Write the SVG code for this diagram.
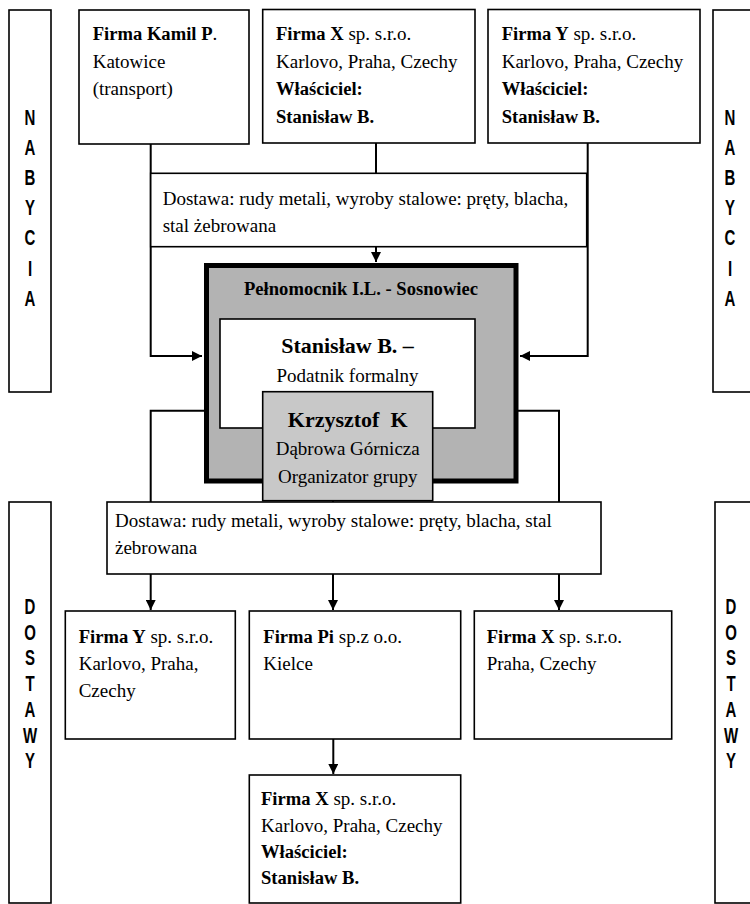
<svg xmlns="http://www.w3.org/2000/svg" width="750" height="904" viewBox="0 0 750 904">
<defs>
<style>
.b{fill:#fff;stroke:#000;stroke-width:1.6}
.t{font-family:"Liberation Serif","Times New Roman",serif;font-size:19px;fill:#000}
.bd{font-weight:bold;font-size:18.6px}
.s{font-family:"Liberation Sans",Arial,sans-serif;font-size:15px;font-weight:bold;fill:#000;text-anchor:middle}
.c{fill:none;stroke:#000;stroke-width:2}
</style>
<marker id="ah" viewBox="0 0 10 10" refX="10" refY="5" markerWidth="5" markerHeight="5" orient="auto" markerUnits="strokeWidth"><path d="M0,0L10,5L0,10z" fill="#000"/></marker>
</defs>
<rect width="750" height="904" fill="#fff"/>

<g id="side-nabycia-left">
<rect class="b" x="9" y="10" width="42" height="382"/>
<text class="s" transform="scale(1,1.45)"><tspan x="30" y="86">N</tspan><tspan x="30" y="106.8">A</tspan><tspan x="30" y="127.7">B</tspan><tspan x="30" y="148.5">Y</tspan><tspan x="30" y="169.3">C</tspan><tspan x="30" y="190.1">I</tspan><tspan x="30" y="211">A</tspan></text>
</g>
<g id="side-nabycia-right">
<rect class="b" x="713" y="10" width="60" height="382"/>
<text class="s" transform="scale(1,1.45)"><tspan x="730" y="86">N</tspan><tspan x="730" y="106.8">A</tspan><tspan x="730" y="127.7">B</tspan><tspan x="730" y="148.5">Y</tspan><tspan x="730" y="169.3">C</tspan><tspan x="730" y="190.1">I</tspan><tspan x="730" y="211">A</tspan></text>
</g>
<g id="side-dostawy-left">
<rect class="b" x="9" y="502" width="42" height="401"/>
<text class="s" transform="scale(1,1.45)"><tspan x="30" y="423.4">D</tspan><tspan x="30" y="441.2">O</tspan><tspan x="30" y="458.9">S</tspan><tspan x="30" y="476.6">T</tspan><tspan x="30" y="494.3">A</tspan><tspan x="30" y="512.1">W</tspan><tspan x="30" y="529.8">Y</tspan></text>
</g>
<g id="side-dostawy-right">
<rect class="b" x="715" y="502" width="60" height="401"/>
<text class="s" transform="scale(1,1.45)"><tspan x="731" y="423.4">D</tspan><tspan x="731" y="441.2">O</tspan><tspan x="731" y="458.9">S</tspan><tspan x="731" y="476.6">T</tspan><tspan x="731" y="494.3">A</tspan><tspan x="731" y="512.1">W</tspan><tspan x="731" y="529.8">Y</tspan></text>
</g>

<g id="connectors">
<path class="c" d="M150.7,144V356H202" marker-end="url(#ah)"/>
<path class="c" d="M587.7,143V356H520" marker-end="url(#ah)"/>
<path class="c" d="M376,143V173"/>
<path class="c" d="M376,247V262" marker-end="url(#ah)"/>
<path class="c" d="M204,410.7H150.7V510"/>
<path class="c" d="M518,410.7H559V513"/>
<path class="c" d="M333,500V510"/>
<path class="c" d="M150.7,574V610" marker-end="url(#ah)"/>
<path class="c" d="M333,574V610" marker-end="url(#ah)"/>
<path class="c" d="M559,574V610" marker-end="url(#ah)"/>
<path class="c" d="M333.3,739V774" marker-end="url(#ah)"/>
</g>

<g id="firma-kamil">
<rect class="b" x="79" y="10" width="170" height="134"/>
<text class="t"><tspan x="92.7" y="40" class="bd">Firma Kamil P</tspan><tspan>.</tspan><tspan x="92.7" y="67.5">Katowice</tspan><tspan x="92.7" y="95">(transport)</tspan></text>
</g>
<g id="firma-x-top">
<rect class="b" x="262.7" y="9.5" width="212.3" height="133.5"/>
<text class="t"><tspan x="276" y="40" class="bd">Firma X</tspan><tspan> sp. s.r.o.</tspan><tspan x="276" y="67.5">Karlovo, Praha, Czechy</tspan><tspan x="276" y="95" class="bd">Właściciel:</tspan><tspan x="276" y="122.5" class="bd">Stanisław B.</tspan></text>
</g>
<g id="firma-y-top">
<rect class="b" x="488" y="9.5" width="212" height="133.5"/>
<text class="t"><tspan x="501.7" y="40" class="bd">Firma Y</tspan><tspan> sp. s.r.o.</tspan><tspan x="501.7" y="67.5">Karlovo, Praha, Czechy</tspan><tspan x="501.7" y="95" class="bd">Właściciel:</tspan><tspan x="501.7" y="122.5" class="bd">Stanisław B.</tspan></text>
</g>
<g id="dostawa-top">
<rect class="b" x="150.7" y="173.3" width="436" height="73.4"/>
<text class="t"><tspan x="162.7" y="205">Dostawa: rudy metali, wyroby stalowe: pręty, blacha,</tspan><tspan x="162.7" y="231.5">stal żebrowana</tspan></text>
</g>

<g id="pelnomocnik">
<rect x="206.5" y="265.5" width="309.5" height="215.5" fill="#b3b3b3" stroke="#000" stroke-width="5"/>
<text class="t bd" x="361" y="295" text-anchor="middle">Pełnomocnik I.L. - Sosnowiec</text>
</g>
<g id="stanislaw">
<rect class="b" x="220" y="319" width="255" height="109"/>
<text class="t" text-anchor="middle"><tspan x="347.5" y="353" class="bd" style="font-size:22px">Stanisław B. –</tspan><tspan x="347.5" y="381.7">Podatnik formalny</tspan></text>
</g>
<g id="krzysztof">
<rect x="262.7" y="391.7" width="170" height="109" fill="#c8c8c8" stroke="#000" stroke-width="1.6"/>
<text class="t" text-anchor="middle"><tspan x="347.7" y="426.7" class="bd" style="font-size:22px" xml:space="preserve">Krzysztof  K</tspan><tspan x="347.7" y="455">Dąbrowa Górnicza</tspan><tspan x="347.7" y="483.3">Organizator grupy</tspan></text>
</g>

<g id="dostawa-bottom">
<rect class="b" x="107" y="502" width="494" height="72"/>
<text class="t"><tspan x="115" y="526.5">Dostawa: rudy metali, wyroby stalowe: pręty, blacha, stal</tspan><tspan x="115" y="553.5">żebrowana</tspan></text>
</g>

<g id="firma-y-bottom">
<rect class="b" x="65.3" y="611" width="170" height="128"/>
<text class="t"><tspan x="78.7" y="643" class="bd">Firma Y</tspan><tspan> sp. s.r.o.</tspan><tspan x="78.7" y="670">Karlovo, Praha,</tspan><tspan x="78.7" y="697">Czechy</tspan></text>
</g>
<g id="firma-pi">
<rect class="b" x="249.3" y="611" width="211.4" height="128"/>
<text class="t"><tspan x="263.3" y="643" class="bd">Firma Pi</tspan><tspan> sp.z o.o.</tspan><tspan x="263.3" y="670">Kielce</tspan></text>
</g>
<g id="firma-x-bottom-right">
<rect class="b" x="474.3" y="611" width="197.4" height="128"/>
<text class="t"><tspan x="486.7" y="643" class="bd">Firma X</tspan><tspan> sp. s.r.o.</tspan><tspan x="486.7" y="670">Praha, Czechy</tspan></text>
</g>
<g id="firma-x-bottom">
<rect class="b" x="249.3" y="775" width="211.4" height="128"/>
<text class="t"><tspan x="261" y="805" class="bd">Firma X</tspan><tspan> sp. s.r.o.</tspan><tspan x="261" y="831.5">Karlovo, Praha, Czechy</tspan><tspan x="261" y="857.5" class="bd">Właściciel:</tspan><tspan x="261" y="883.5" class="bd">Stanisław B.</tspan></text>
</g>
</svg>
